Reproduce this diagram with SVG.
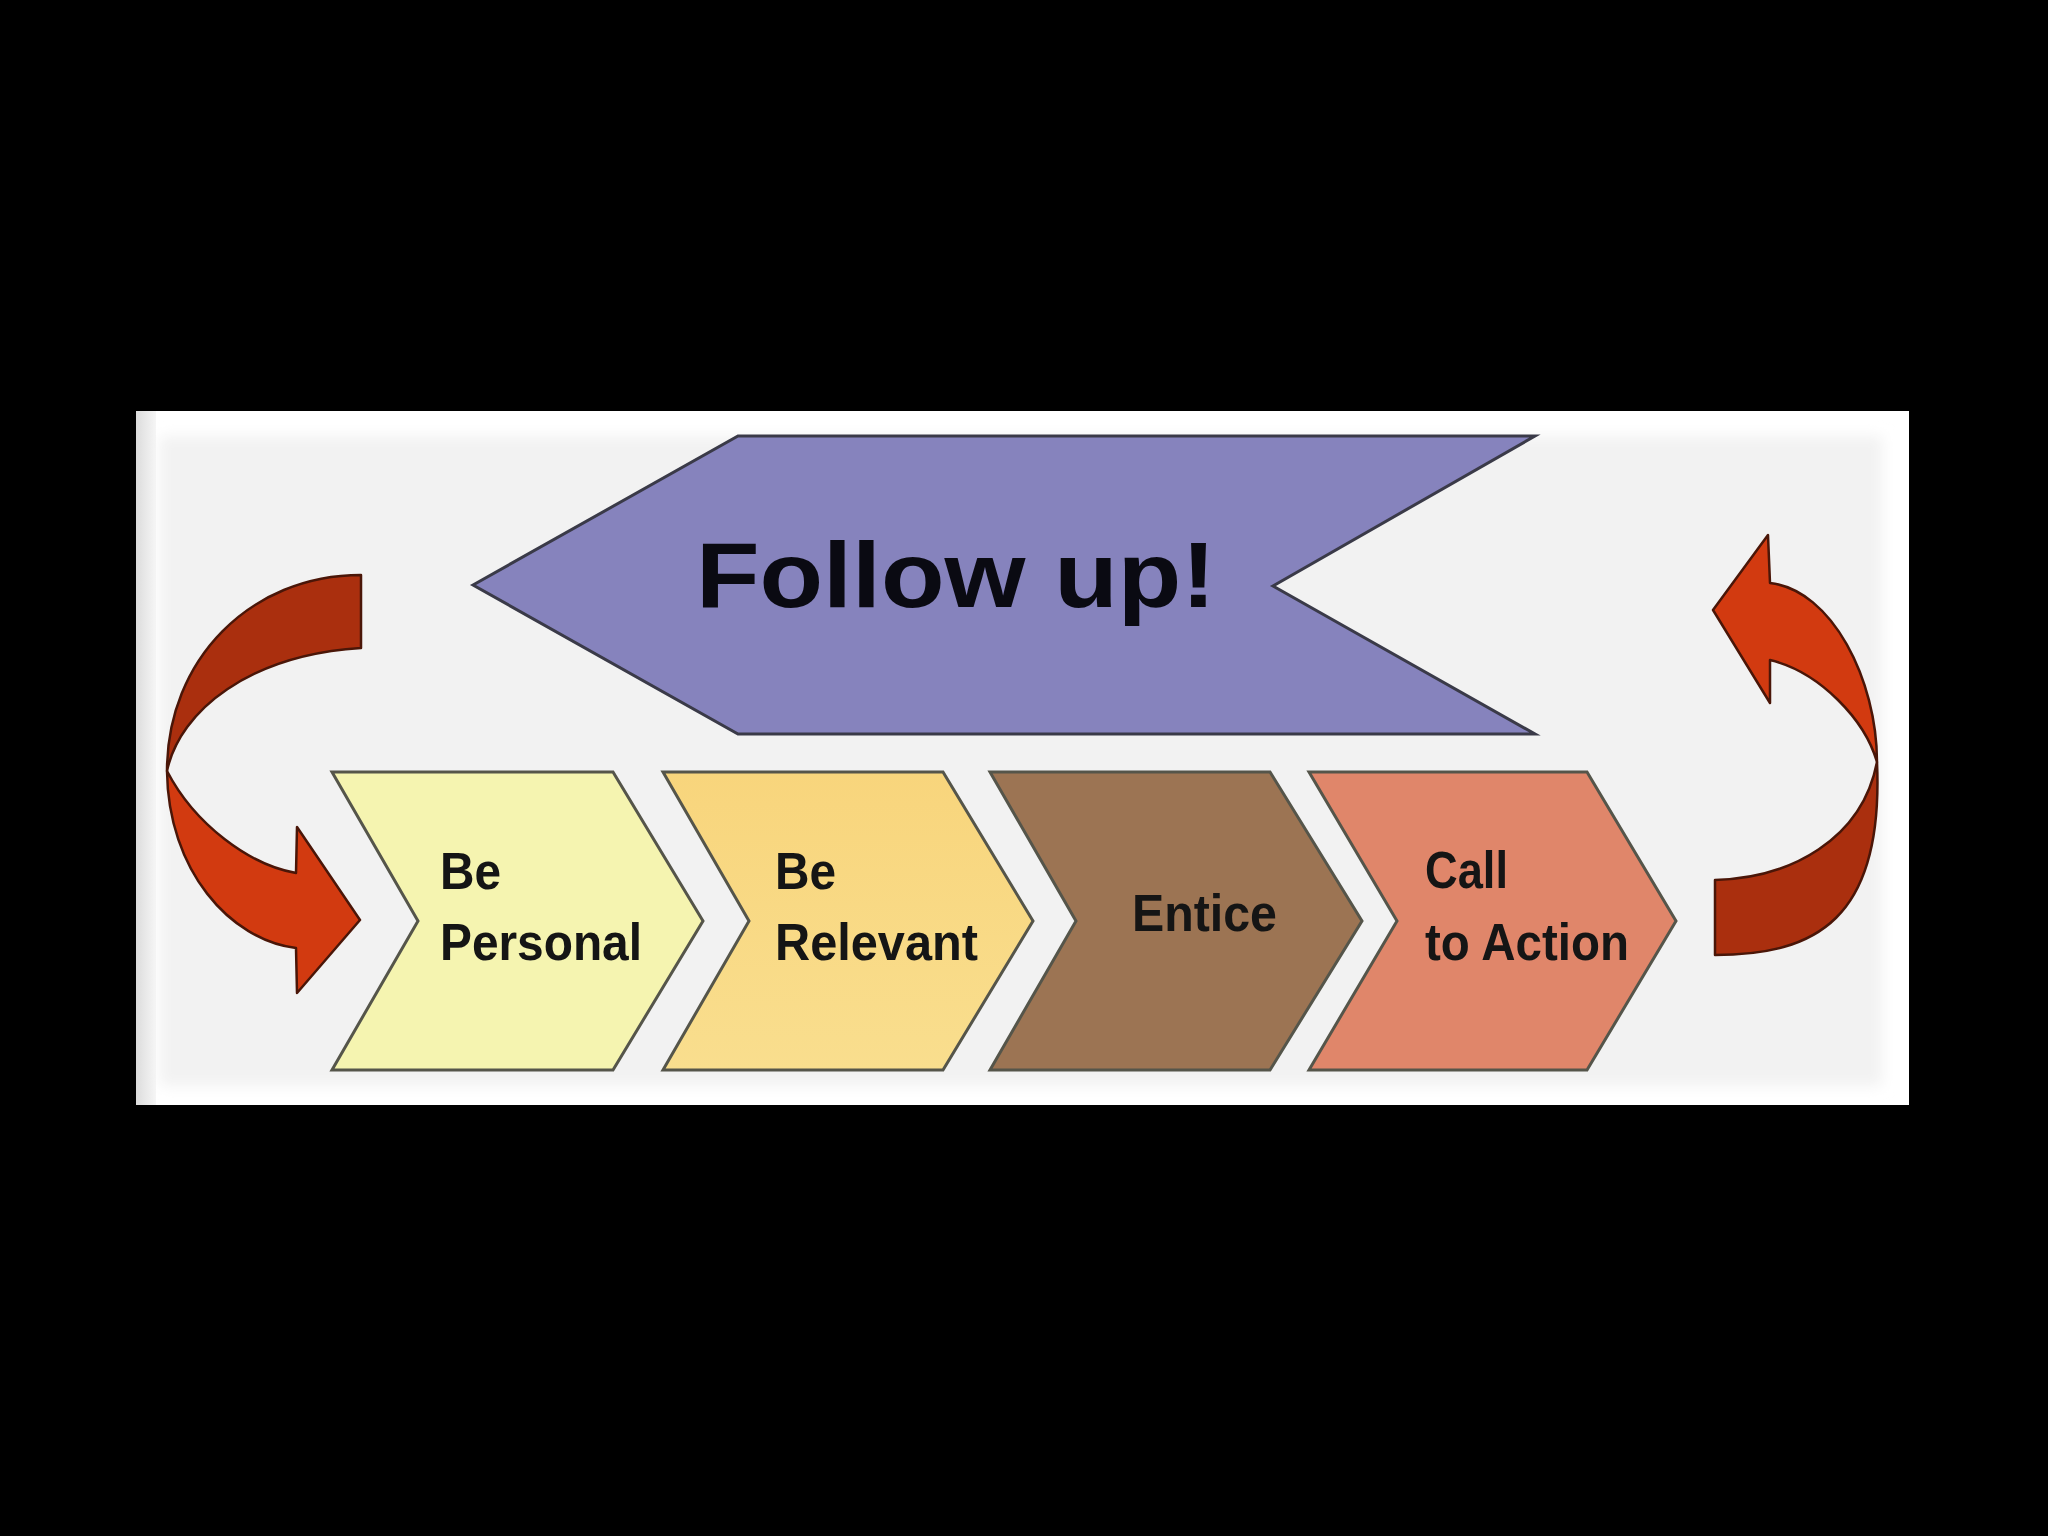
<svg xmlns="http://www.w3.org/2000/svg" width="2048" height="1536" viewBox="0 0 2048 1536">
  <defs>
    <style>
      .chev { stroke: #55554a; stroke-width: 3; stroke-linejoin: miter; }
      .lbl { font-family: "Liberation Sans", Arial, sans-serif; font-weight: bold; font-size: 52px; fill: #151515; }
      .title { font-family: "Liberation Sans", Arial, sans-serif; font-weight: bold; font-size: 92px; fill: #0a0a12; }
      .arrDark { fill: #aa2f0e; stroke: #4a1608; stroke-width: 2.5; stroke-linejoin: round; }
      .arrBright { fill: #d23a10; stroke: #4a1608; stroke-width: 2.5; stroke-linejoin: round; }
    </style>
    <linearGradient id="leftEdge" x1="0" y1="0" x2="1" y2="0">
      <stop offset="0" stop-color="#dcdcdc"/>
      <stop offset="1" stop-color="#f6f6f6"/>
    </linearGradient>
    <linearGradient id="gYellow2" x1="0" y1="0" x2="0" y2="1">
      <stop offset="0" stop-color="#f8d57c"/>
      <stop offset="1" stop-color="#f9de8e"/>
    </linearGradient>
    <filter id="soft" x="-5%" y="-5%" width="110%" height="110%">
      <feGaussianBlur stdDeviation="7"/>
    </filter>
  </defs>

  <rect x="0" y="0" width="2048" height="1536" fill="#000000"/>

  <g id="panel">
    <rect x="136" y="411" width="1773" height="694" fill="#ffffff"/>
    <rect x="136" y="411" width="20" height="694" fill="url(#leftEdge)"/>
    <rect x="160" y="436" width="1722" height="650" fill="#f2f2f2" filter="url(#soft)"/>
  </g>

  <g id="follow-up">
    <polygon points="473,585 738,436 1535,436 1273,586 1535,734 738,734" fill="#8683bd" stroke="#3a3a48" stroke-width="3" stroke-linejoin="miter"/>
    <text class="title" x="696" y="607" textLength="520" lengthAdjust="spacingAndGlyphs">Follow up!</text>
  </g>

  <g id="be-personal">
    <polygon class="chev" points="332,772 613,772 703,921 613,1070 332,1070 418,921" fill="#f5f4b0"/>
    <text class="lbl" x="440" y="889" textLength="61" lengthAdjust="spacingAndGlyphs">Be</text>
    <text class="lbl" x="440" y="960" textLength="202" lengthAdjust="spacingAndGlyphs">Personal</text>
  </g>

  <g id="be-relevant">
    <polygon class="chev" points="663,772 943,772 1033,921 943,1070 663,1070 749,921" fill="url(#gYellow2)"/>
    <text class="lbl" x="775" y="889" textLength="61" lengthAdjust="spacingAndGlyphs">Be</text>
    <text class="lbl" x="775" y="960" textLength="203" lengthAdjust="spacingAndGlyphs">Relevant</text>
  </g>

  <g id="entice">
    <polygon class="chev" points="990,772 1270,772 1362,921 1270,1070 990,1070 1076,921" fill="#9c7453"/>
    <text class="lbl" x="1132" y="931" textLength="145" lengthAdjust="spacingAndGlyphs">Entice</text>
  </g>

  <g id="call-to-action">
    <polygon class="chev" points="1309,772 1587,772 1676,921 1587,1070 1309,1070 1397,921" fill="#e0866a"/>
    <text class="lbl" x="1425" y="888" textLength="83" lengthAdjust="spacingAndGlyphs">Call</text>
    <text class="lbl" x="1425" y="960" textLength="204" lengthAdjust="spacingAndGlyphs">to Action</text>
  </g>

  <g id="connectors">
    <g id="left-loop-arrow">
      <path class="arrDark" d="M 361 575 C 250 575, 167 660, 167 771 C 180 710, 250 655, 361 648 Z"/>
      <path class="arrBright" d="M 167 771 C 168 870, 230 940, 296 948 L 297 993 L 360 920 L 297 827 L 296 873 C 250 865, 195 825, 167 771 Z"/>
    </g>
    <g id="right-loop-arrow">
      <path class="arrBright" d="M 1770 583 C 1832 590, 1877 680, 1877 762 C 1865 720, 1820 672, 1770 660 L 1770 703 L 1713 610 L 1768 535 Z"/>
      <path class="arrDark" d="M 1877 762 C 1884 920, 1815 955, 1715 955 L 1715 880 C 1790 878, 1862 840, 1877 762 Z"/>
    </g>
  </g>
</svg>
